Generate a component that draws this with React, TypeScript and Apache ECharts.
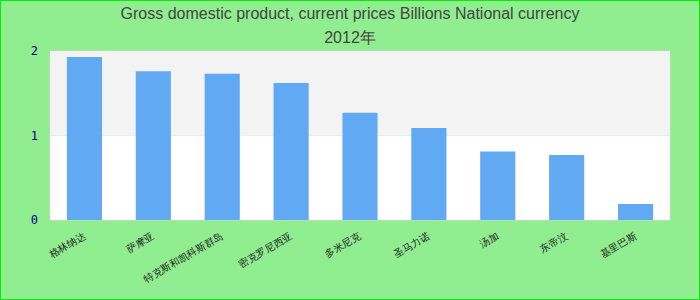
import React, { useEffect, useRef } from "react";
import * as echarts from "echarts";

const titleLine1 = "Gross domestic product, current prices Billions National currency";
const titleLine2 = "2012年";
const categories = ["格林纳达", "萨摩亚", "特克斯和凯科斯群岛", "密克罗尼西亚", "多米尼克", "圣马力诺", "汤加", "东帝汶", "基里巴斯"];
const values = [1.93, 1.76, 1.73, 1.62, 1.27, 1.09, 0.81, 0.77, 0.19];
const yTicks = { min: 0, max: 2, interval: 1 };

export default function App() {
  const ref = useRef<HTMLDivElement>(null);
  useEffect(() => {
    if (!ref.current) return;
    const chart = echarts.init(ref.current, null, { renderer: "svg" });
    chart.setOption({
      animation: false,
      backgroundColor: "#90ee90",
      title: {
        text: titleLine1 + "\n" + titleLine2,
        left: "center",
        top: -4,
        textStyle: {
          fontFamily: "Liberation Sans",
          fontSize: 16,
          fontWeight: "normal",
          color: "#444",
          lineHeight: 24,
        },
      },
      graphic: [
        {
          type: "rect",
          shape: { x: 0, y: 0, width: 700, height: 300 },
          style: { fill: "none", stroke: "#00ee00", lineWidth: 2 },
          silent: true,
          z: 100,
        },
      ],
      grid: {
        left: 50,
        right: 30,
        top: 51,
        bottom: 80,
        show: true,
        borderColor: "#d3d3d3",
        borderWidth: 1,
        backgroundColor: "transparent",
      },
      xAxis: {
        type: "category",
        data: categories,
        axisLine: { show: false },
        axisTick: { show: false },
        axisLabel: {
          interval: 0,
          rotate: 30,
          fontSize: 10,
          color: "#222",
          margin: 15,
        },
      },
      yAxis: {
        type: "value",
        min: yTicks.min,
        max: yTicks.max,
        interval: yTicks.interval,
        axisLine: { show: false },
        axisTick: { show: false },
        splitLine: { show: false },
        splitArea: { show: true, areaStyle: { color: ["#ffffff", "#f3f3f3"] } },
        axisLabel: {
          color: "#00008b",
          fontFamily: "DejaVu Sans Mono",
          fontSize: 12,
          margin: 12,
        },
      },
      series: [
        {
          type: "bar",
          data: values,
          barWidth: "51%",
          itemStyle: { color: "#62a9f4" },
        },
      ],
    });
    return () => chart.dispose();
  }, []);
  return (
    <div
      ref={ref}
      style={{ position: "fixed", left: 0, top: 0, width: 700, height: 300 }}
    />
  );
}
